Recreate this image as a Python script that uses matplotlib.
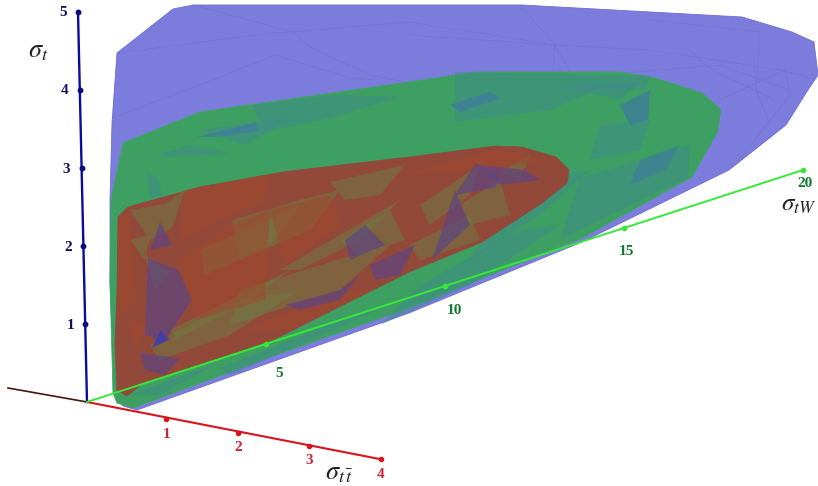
import matplotlib.pyplot as plt
from matplotlib.patches import Polygon
import numpy as np

# outlines of the three regions (projected, in image pixels)
blue_outline = [(117, 53), (173, 9), (193, 5), (522, 5), (742, 17), (792, 32), (814, 42), (818, 75),
                (806, 93), (786, 125), (729, 170), (582, 242), (409, 313), (137, 410), (123, 406),
                (115, 396), (110, 283), (110, 200), (112, 123)]
green_outline = [(123, 143), (200, 112), (409, 82), (476, 72), (619, 72), (652, 77), (702, 93), (721, 110),
                 (717, 133), (692, 177), (582, 238), (409, 308), (273, 356), (133, 408), (117, 403),
                 (113, 393), (110, 283), (111, 200)]
red_outline = [(118, 217), (128, 207), (200, 187), (283, 172), (409, 157), (496, 146), (522, 147), (556, 157),
               (569, 170), (567, 183), (542, 203), (482, 242), (409, 272), (273, 340), (143, 383),
               (127, 396), (117, 390), (115, 343), (117, 293)]

green_facets = [
    [(252, 105), (335, 95), (400, 97), (330, 118), (265, 132)],
    [(197, 137), (257, 122), (258, 131), (215, 137)],
    [(158, 155), (190, 145), (232, 154), (165, 157)],
    [(146, 172), (158, 178), (162, 196), (150, 198)],
    [(455, 72), (650, 76), (645, 90), (600, 88), (550, 110), (455, 122)],
    [(450, 105), (490, 92), (500, 98), (460, 112)],
    [(620, 105), (650, 90), (648, 120), (630, 125)],
    [(600, 125), (650, 120), (640, 150), (590, 160)],
    [(580, 178), (690, 145), (688, 178), (600, 220), (560, 240)],
    [(500, 212), (560, 175), (590, 170), (540, 215), (470, 260)],
    [(420, 285), (520, 230), (560, 225), (470, 285), (380, 325)],
    [(220, 368), (340, 320), (400, 300), (300, 345), (230, 375)],
    [(130, 395), (220, 362), (160, 395)],
    [(200, 130), (290, 118), (245, 145)],
    [(560, 85), (640, 82), (620, 100)],
]
green_strong = [
    [(197, 137), (257, 122), (258, 131), (215, 137)],
    [(450, 105), (490, 92), (500, 98), (460, 112)],
    [(620, 105), (650, 90), (648, 120), (630, 125)],
    [(520, 205), (560, 175), (565, 182), (530, 210)],
    [(640, 160), (680, 145), (665, 170), (630, 185)],
]
red_olive = [
    [(130, 210), (165, 204), (185, 190), (172, 228), (150, 240)],
    [(232, 220), (300, 200), (340, 190), (310, 230), (240, 260)],
    [(240, 290), (330, 262), (390, 245), (340, 290), (230, 325)],
    [(150, 345), (240, 300), (300, 290), (230, 335), (160, 360)],
    [(340, 240), (390, 210), (405, 240), (360, 255)],
    [(460, 205), (500, 180), (510, 215), (470, 225)],
    [(410, 245), (470, 215), (480, 240), (420, 260)],
    [(330, 182), (405, 165), (380, 195), (345, 200)],
    [(500, 172), (530, 155), (520, 180)],
    [(130, 240), (150, 235), (145, 260)],
    [(145, 255), (170, 272), (155, 290)],
    [(280, 270), (400, 200), (360, 240), (300, 270)],
    [(200, 250), (300, 205), (270, 245), (205, 275)],
    [(170, 330), (290, 270), (250, 300), (175, 340)],
    [(420, 205), (480, 165), (470, 195), (430, 225)],
]
red_purple = [
    [(148, 258), (178, 270), (192, 300), (165, 340), (145, 335)],
    [(345, 240), (365, 225), (385, 245), (350, 260)],
    [(285, 305), (340, 290), (360, 275), (340, 300), (300, 310)],
    [(455, 195), (476, 163), (500, 178), (495, 188)],
    [(432, 260), (455, 190), (470, 225)],
    [(478, 165), (525, 170), (540, 180), (500, 185)],
    [(140, 353), (180, 358), (165, 375), (145, 370)],
    [(153, 335), (165, 330), (170, 340), (155, 343)],
    [(370, 265), (415, 245), (400, 275), (375, 280)],
    [(160, 222), (172, 245), (150, 250)],
]
red_dark = [
    [(128, 322), (150, 322), (137, 350)],
    [(118, 218), (130, 212), (135, 300), (118, 320)],
    [(180, 260), (230, 225), (270, 210), (265, 300), (195, 320)],
    [(270, 210), (330, 195), (340, 225), (285, 265)],
    [(185, 190), (270, 175), (265, 200), (180, 240)],
    [(400, 175), (495, 150), (550, 160), (470, 170)],
    [(240, 330), (340, 295), (380, 285), (290, 330)],
]
blue_triangle = [(152, 348), (168, 340), (161, 330)]

# dotted edges on the far side of the blue region
blue_edges = [
    [(118, 53), (270, 33), (293, 32), (409, 22), (555, 45), (580, 90), (600, 75), (720, 65), (790, 90)],
    [(193, 5), (293, 32), (310, 47), (370, 75), (420, 85)],
    [(112, 118), (200, 85), (275, 55), (350, 78), (375, 80)],
    [(409, 35), (555, 45), (650, 50), (780, 70), (818, 80)],
    [(520, 5), (555, 45), (553, 70)],
    [(650, 20), (760, 32), (756, 90), (770, 125)],
    [(720, 100), (785, 70), (790, 95), (735, 165)],
    [(690, 50), (712, 70), (775, 100)],
]

tt_ticks = [1, 2, 3, 4]
t_ticks = [1, 2, 3, 4, 5]
tw_ticks = [5, 10, 15, 20]
tw_label_dx = [13, 9, 2, 2]
tw_label_dy = [29, 24, 23, 13]

origin = np.array([87.0, 402.0])
tt_base = np.array([95.0, 406.0])
tt_vec = np.array([71.4, 13.3])
t_vec = np.array([-1.8, -78.0])
tw_vec = np.array([35.8, -11.6])

blue_col = '#7c7cdc'
green_col = '#3e9f62'
red_col = '#93493a'


def add_polys(ax, polys, color, alpha, z):
    for p in polys:
        ax.add_patch(Polygon(p, closed=True, facecolor=color, edgecolor='none', alpha=alpha, zorder=z))


plt.rcParams['mathtext.fontset'] = 'stix'

fig = plt.figure(figsize=(8.18, 4.86), dpi=100)
ax = fig.add_axes([0, 0, 1, 1])
ax.set_xlim(0, 818)
ax.set_ylim(486, 0)
ax.axis('off')

ax.add_patch(Polygon(blue_outline, closed=True, facecolor=blue_col, edgecolor='#6f6fd0', lw=0.6, zorder=1))
for e in blue_edges:
    e = np.array(e)
    ax.plot(e[:, 0], e[:, 1], color='#5a5ab8', lw=0.45, ls=(0, (1.5, 1.5)), alpha=0.55, zorder=2)

ax.add_patch(Polygon(green_outline, closed=True, facecolor=green_col, edgecolor='#3aa860', lw=0.6, zorder=3))
add_polys(ax, green_facets, '#3f8a8c', 0.5, 4)
add_polys(ax, green_strong, '#3f7aa0', 0.6, 4)

ax.add_patch(Polygon(red_outline, closed=True, facecolor=red_col, edgecolor='#93493a', lw=0.6, zorder=5))
add_polys(ax, red_olive, '#6f7a42', 0.55, 6)
add_polys(ax, red_dark, '#a3482e', 0.5, 7)
add_polys(ax, red_purple, '#5f4682', 0.7, 8)
add_polys(ax, [blue_triangle], '#3c3cb0', 0.8, 9)

# axes
tt_end = tt_base + tt_vec * tt_ticks[-1]
t_end = origin + t_vec * t_ticks[-1]
tw_end = origin + tw_vec * tw_ticks[-1] / 1

ax.plot([8, origin[0]], [388, origin[1]], color='#4a1510', lw=1.2, zorder=10)
ax.plot([origin[0], tt_end[0]], [origin[1], tt_end[1]], color='#d8141c', lw=1.5, zorder=10)
ax.plot([origin[0], t_end[0]], [origin[1], t_end[1]], color='#0a0a9c', lw=1.7, zorder=10)
ax.plot([origin[0], tw_end[0]], [origin[1], tw_end[1]], color='#38e838', lw=1.4, zorder=11)

tick_font = {'family': 'Liberation Serif', 'weight': 'bold', 'fontsize': 11, 'ha': 'center', 'va': 'center', 'zorder': 12}

for v in tt_ticks:
    p = tt_base + tt_vec * v
    ax.plot(p[0], p[1], 'o', color='#d8141c', ms=3, zorder=12)
    ax.text(p[0], p[1] + 15, str(v), color='#d02030', **tick_font)
for v in t_ticks:
    p = origin + t_vec * v
    ax.plot(p[0], p[1], 'o', color='#0a0a80', ms=3.2, zorder=12)
    ax.text(p[0] - 15, p[1] + 1, str(v), color='#101060', **tick_font)
for v, dx, dy in zip(tw_ticks, tw_label_dx, tw_label_dy):
    p = origin + tw_vec * v
    ax.plot(p[0], p[1], 'o', color='#38e838', ms=3, zorder=12)
    ax.text(p[0] + dx, p[1] + dy, str(v), color='#107a30', **tick_font)

ax.text(28, 50, r'$\sigma_t$', fontsize=19, color='#222222', va='center', ha='left')
ax.text(816, 204, r'$\sigma_{tW}$', fontsize=18, color='#222222', va='center', ha='right')
ax.text(325, 472, r'$\sigma_{t\,\bar{t}}$', fontsize=19, color='#222222', va='center', ha='left')

fig.savefig('out.png', dpi=100)
